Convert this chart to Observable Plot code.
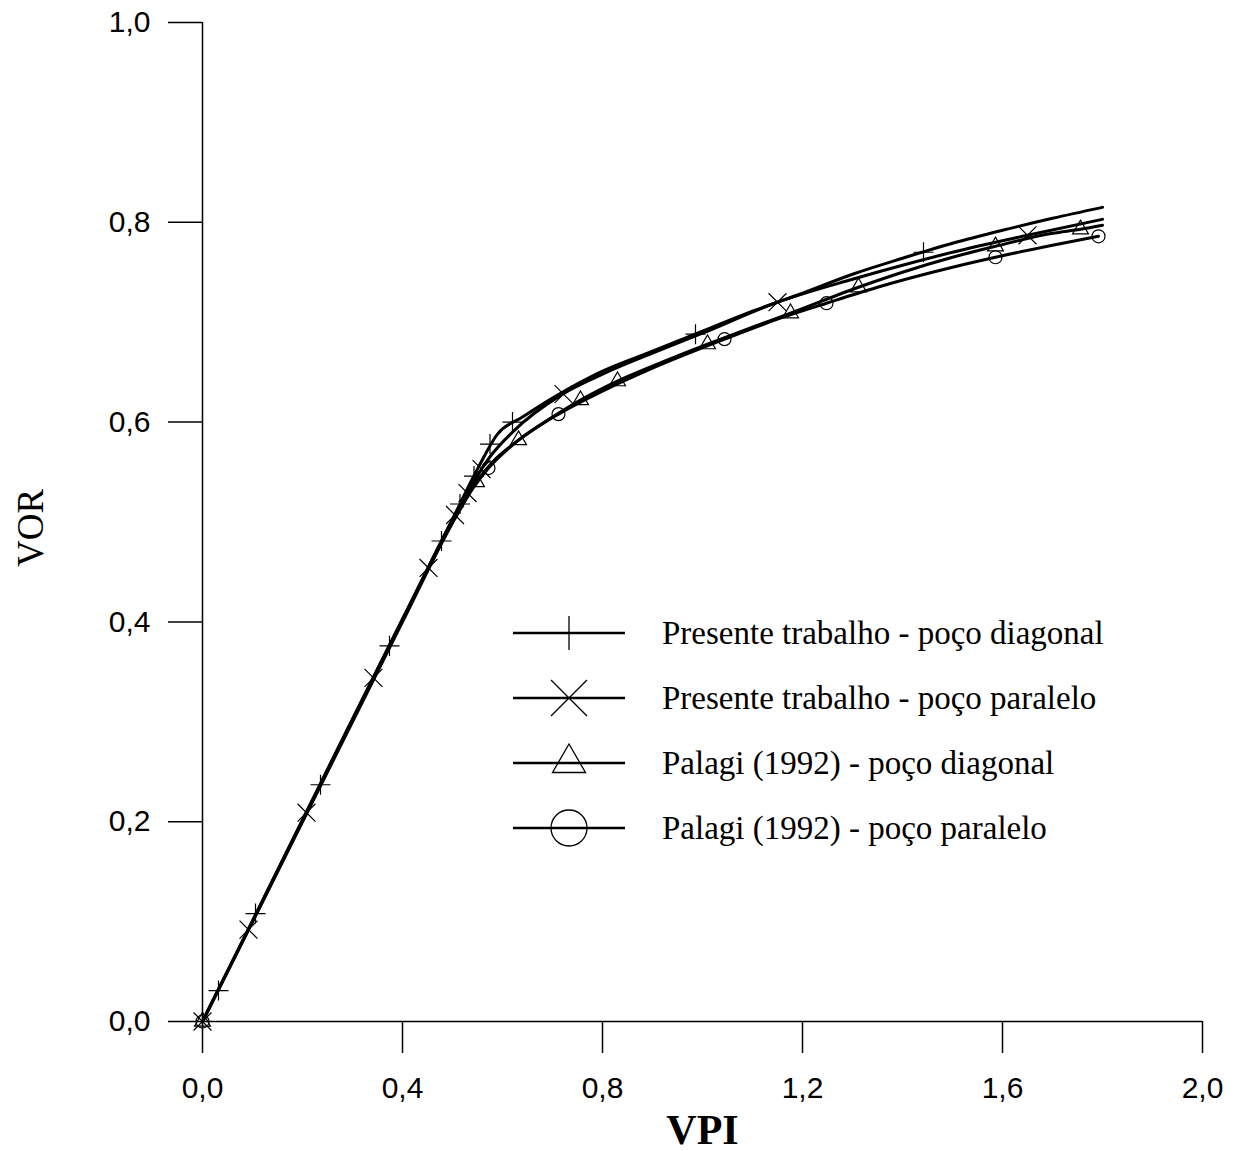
<!DOCTYPE html>
<html>
<head>
<meta charset="utf-8">
<script src="https://cdn.jsdelivr.net/npm/d3@7"></script>
<script src="https://cdn.jsdelivr.net/npm/@observablehq/plot@0.6"></script>
<style>
  body { margin: 0; background: white; }
  #wrap { position: relative; width: 1238px; height: 1151px; }
  #legend { position: absolute; left: 0; top: 0; pointer-events: none; }
</style>
</head>
<body>
<div id="wrap"></div>
<script>
// ---- data (VPI, VOR) ----
const vpiTicks = [0, 0.4, 0.8, 1.2, 1.6, 2.0];
const vorTicks = [0, 0.2, 0.4, 0.6, 0.8, 1.0];
const seriesNames = [
  "Presente trabalho - poço diagonal",
  "Presente trabalho - poço paralelo",
  "Palagi (1992) - poço diagonal",
  "Palagi (1992) - poço paralelo"
];
const seriesSymbols = ["plus", "times", "triangle2", "circle"];

const diagPresenteLine = [[0,0],[0.1,0.101],[0.2,0.202],[0.3,0.303],[0.4,0.403],[0.5,0.503],[0.55,0.553],[0.59,0.588],[0.64,0.605],[0.7,0.624],[0.8,0.651],[0.9,0.671],[1.0,0.691],[1.1,0.711],[1.2,0.729],[1.3,0.748],[1.4,0.764],[1.5,0.779],[1.6,0.792],[1.7,0.804],[1.8,0.815]];
const paraPresenteLine = [[0,0],[0.1,0.1],[0.2,0.201],[0.3,0.302],[0.4,0.402],[0.5,0.502],[0.54,0.538],[0.57,0.562],[0.62,0.590],[0.72,0.628],[0.8,0.648],[0.9,0.669],[1.0,0.689],[1.15,0.720],[1.3,0.743],[1.4,0.757],[1.5,0.770],[1.65,0.787],[1.8,0.803]];
const diagPalagiLine = [[0,0],[0.1,0.1],[0.2,0.2],[0.3,0.301],[0.4,0.401],[0.5,0.5],[0.548,0.54],[0.58,0.56],[0.632,0.582],[0.7,0.605],[0.756,0.622],[0.83,0.641],[0.9,0.656],[1.01,0.678],[1.1,0.695],[1.176,0.709],[1.312,0.735],[1.4,0.750],[1.5,0.765],[1.586,0.776],[1.7,0.789],[1.756,0.793],[1.8,0.797]];
const paraPalagiLine = [[0,0],[0.1,0.1],[0.2,0.2],[0.3,0.3],[0.4,0.4],[0.5,0.499],[0.54,0.533],[0.572,0.554],[0.62,0.577],[0.712,0.608],[0.8,0.631],[0.9,0.654],[1.044,0.683],[1.15,0.703],[1.248,0.719],[1.35,0.735],[1.5,0.755],[1.586,0.765],[1.7,0.777],[1.792,0.786]];

const diagPresenteMarks = [[0,0],[0.032,0.031],[0.106,0.108],[0.236,0.237],[0.374,0.376],[0.478,0.481],[0.515,0.518],[0.543,0.546],[0.575,0.578],[0.62,0.600],[0.986,0.688],[1.442,0.770]];
const paraPresenteMarks = [[0,0],[0.092,0.092],[0.208,0.209],[0.342,0.344],[0.452,0.454],[0.505,0.507],[0.53,0.529],[0.558,0.553],[0.722,0.628],[1.15,0.720],[1.65,0.787]];
const diagPalagiMarks = [[0,0],[0.548,0.54],[0.632,0.582],[0.756,0.622],[0.83,0.641],[1.01,0.678],[1.176,0.709],[1.312,0.735],[1.586,0.776],[1.756,0.793]];
const paraPalagiMarks = [[0,0],[0.572,0.554],[0.712,0.608],[1.044,0.683],[1.248,0.719],[1.586,0.765],[1.792,0.786]];

const fmt = d => d3.format(".1f")(d).replace(".", ",");
const X = d => d[0], Y = d => d[1];
const serif = "'Liberation Serif', 'Times New Roman', serif";

const lines = [diagPresenteLine, paraPresenteLine, diagPalagiLine, paraPalagiLine];
const marks = [diagPresenteMarks, paraPresenteMarks, diagPalagiMarks, paraPalagiMarks];
const markR = [6.5, 8.2, 7.6, 6.5];

const chart = Plot.plot({
  width: 1238,
  height: 1151,
  marginLeft: 202,
  marginRight: 36,
  marginTop: 22,
  marginBottom: 130,
  x: {domain: [0, 2]},
  y: {domain: [0, 1]},
  style: {fontFamily: "'Liberation Sans', Arial, sans-serif", fontSize: "30px", color: "black", background: "white", overflow: "visible"},
  marks: [
    Plot.axisX({ticks: vpiTicks, tickSize: 32, tickPadding: 23, tickFormat: fmt, label: null, fontSize: 30, strokeWidth: 1.5}),
    Plot.axisY({ticks: vorTicks, tickSize: 34, tickPadding: 18, tickFormat: fmt, label: null, fontSize: 30, strokeWidth: 1.5}),
    Plot.ruleY([0], {stroke: "black", strokeWidth: 1.5}),
    Plot.ruleX([0], {stroke: "black", strokeWidth: 1.5}),
    ...lines.map(L => Plot.line(L, {x: X, y: Y, stroke: "black", strokeWidth: 3, curve: "monotone-x"})),
    ...marks.map((M, i) => Plot.dot(M, {x: X, y: Y, symbol: seriesSymbols[i], r: markR[i], stroke: "black", strokeWidth: 1.2, fill: "none"})),
    Plot.text(["VPI"], {text: d => d, frameAnchor: "bottom", dy: 109, fontSize: 42, fontWeight: "bold", fontFamily: serif, textAnchor: "middle", lineAnchor: "middle"}),
    Plot.text(["VOR"], {text: d => d, frameAnchor: "left", dx: -171, dy: 6, rotate: -90, fontSize: 37, fontFamily: serif, textAnchor: "middle", lineAnchor: "middle"})
  ]
});
document.getElementById("wrap").appendChild(chart);

// ---- legend overlay inside the plot area ----
const symMap = {plus: d3.symbolPlus, times: d3.symbolTimes, triangle2: d3.symbolTriangle2, circle: d3.symbolCircle};
const legendSizes = [380, 847, 777, 1018];
const svg = d3.select("#wrap").append("svg")
  .attr("id", "legend").attr("width", 1238).attr("height", 1151);
const rowY = i => 633 + i * 65;
seriesNames.forEach((name, i) => {
  const g = svg.append("g").attr("transform", `translate(0,${rowY(i)})`);
  g.append("line").attr("x1", 513).attr("x2", 625).attr("y1", 0).attr("y2", 0)
    .attr("stroke", "black").attr("stroke-width", 2.5);
  g.append("path").attr("transform", "translate(569,0)")
    .attr("d", d3.symbol(symMap[seriesSymbols[i]], legendSizes[i])())
    .attr("fill", "none").attr("stroke", "black").attr("stroke-width", 1.3);
  g.append("text").attr("x", 662).attr("y", 0).attr("dy", "0.33em")
    .attr("font-family", serif).attr("font-size", 33).text(name);
});
</script>
</body>
</html>
